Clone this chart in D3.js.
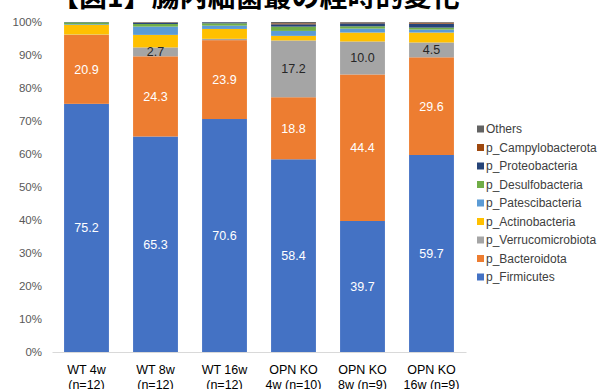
<!DOCTYPE html>
<html><head><meta charset="utf-8">
<script src="https://cdn.jsdelivr.net/npm/d3@7"></script>
<style>body{margin:0;background:#fff;}svg{display:block;}</style>
</head><body>
<svg id="c" width="604" height="389"></svg>
<script>
const title = "【図1】腸内細菌叢の経時的変化";
const categories = ["WT 4w|(n=12)","WT 8w|(n=12)","WT 16w|(n=12)","OPN KO|4w (n=10)","OPN KO|8w (n=9)","OPN KO|16w (n=9)"];
const seriesNames = ["p_Firmicutes","p_Bacteroidota","p_Verrucomicrobiota","p_Actinobacteria","p_Patescibacteria","p_Desulfobacteria","p_Proteobacteria","p_Campylobacterota","Others"];
const seriesColors = ["#4472C4","#ED7D31","#A5A5A5","#FFC000","#5B9BD5","#70AD47","#264478","#9E480E","#636363"];
const firmicutes       = [75.2, 65.3, 70.6, 58.4, 39.7, 59.7];
const bacteroidota     = [20.9, 24.3, 23.9, 18.8, 44.4, 29.6];
const verrucomicrobiota= [0.1, 2.7, 0.4, 17.2, 10.0, 4.5];
const actinobacteria   = [2.9, 3.8, 3.0, 1.4, 2.7, 3.0];
const patescibacteria  = [0.2, 2.5, 1.0, 1.5, 1.2, 0.9];
const desulfobacteria  = [0.6, 0.8, 0.7, 1.3, 0.7, 0.6];
const proteobacteria   = [0.1, 0.4, 0.3, 0.7, 0.9, 1.2];
const campylobacterota = [0.0, 0.1, 0.0, 0.3, 0.2, 0.3];
const others           = [0.0, 0.1, 0.1, 0.4, 0.2, 0.2];
const yTicks = [0,10,20,30,40,50,60,70,80,90,100];
// which series get value labels, and label colour
const labelSeries = {"p_Firmicutes":"#ffffff","p_Bacteroidota":"#ffffff","p_Verrucomicrobiota":"#262626"};
const hideLabels = {"p_Verrucomicrobiota":[0,2]};

const values = [firmicutes,bacteroidota,verrucomicrobiota,actinobacteria,patescibacteria,desulfobacteria,proteobacteria,campylobacterota,others];
const rows = categories.map((c,i)=>{const r={cat:c}; seriesNames.forEach((s,k)=>r[s]=values[k][i]); return r;});
const stacked = d3.stack().keys(seriesNames)(rows);

const svg = d3.select("#c");
const font = "'Liberation Sans', Arial, sans-serif";
const x = d3.scaleBand().domain(categories).range([52,466]).paddingInner(0.35).paddingOuter(0.175);
const y = d3.scaleLinear().domain([0,100]).range([352,22]);
const color = d3.scaleOrdinal().domain(seriesNames).range(seriesColors);

// title
svg.append("text").attr("x",51).attr("y",7).attr("font-family","'Noto Sans CJK JP', sans-serif")
  .attr("font-size",28).attr("font-weight","bold").attr("fill","#000").text(title);

// y axis labels
const yAxis = d3.axisLeft(y).tickValues(yTicks).tickFormat(d=>d+"%").tickSize(0).tickPadding(0);
const ya = svg.append("g").attr("transform","translate(42,0)").call(yAxis);
ya.select(".domain").remove();
ya.selectAll("text").attr("font-family",font).attr("font-size",11.5).attr("fill","#595959");

// bars
const g = svg.append("g");
g.selectAll("g.s").data(stacked).join("g").attr("fill",d=>color(d.key))
 .selectAll("rect").data(d=>d).join("rect")
 .attr("x",d=>x(d.data.cat)).attr("width",x.bandwidth())
 .attr("y",d=>y(d[1])).attr("height",d=>Math.max(0,y(d[0])-y(d[1])));

// value labels
stacked.forEach(s=>{
  if(!(s.key in labelSeries)) return;
  s.forEach((d,i)=>{
    if(hideLabels[s.key] && hideLabels[s.key].includes(i)) return;
    svg.append("text").attr("x",x(d.data.cat)+x.bandwidth()/2).attr("y",y((d[0]+d[1])/2))
      .attr("dy","0.36em").attr("text-anchor","middle").attr("font-family",font)
      .attr("font-size",12.5).attr("fill",labelSeries[s.key]).text((d[1]-d[0]).toFixed(1));
  });
});

// x axis
const xAxis = d3.axisBottom(x).tickSize(0).tickFormat("");
const xa = svg.append("g").attr("transform","translate(0,352)").call(xAxis);
xa.select(".domain").attr("stroke","#d9d9d9").attr("stroke-width",1);
categories.forEach(c=>{
  const parts=c.split("|");
  const t=svg.append("text").attr("text-anchor","middle").attr("font-family",font).attr("font-size",12.5).attr("fill","#000");
  parts.forEach((p,k)=>t.append("tspan").attr("x",x(c)+x.bandwidth()/2).attr("y",374+k*15).text(p));
});

// legend (reverse order, Others on top)
const leg = svg.append("g");
seriesNames.slice().reverse().forEach((s,k)=>{
  const yy = 129 + k*18.5;
  leg.append("rect").attr("x",477).attr("y",yy-3.5).attr("width",7).attr("height",7).attr("fill",color(s));
  leg.append("text").attr("x",486).attr("y",yy).attr("dy","0.35em").attr("font-family",font)
    .attr("font-size",12).attr("fill","#404040").text(s);
});
</script>
</body></html>
